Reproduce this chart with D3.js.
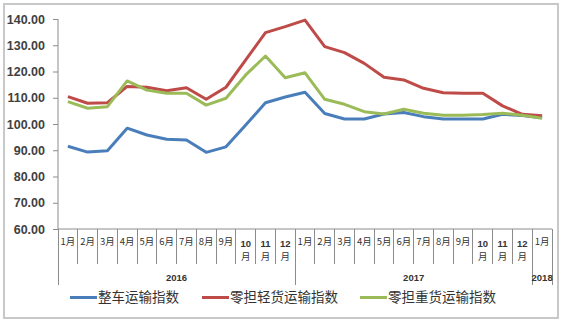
<!DOCTYPE html>
<html><head><meta charset="utf-8">
<script src="https://cdn.jsdelivr.net/npm/d3@7"></script>
<style>body{margin:0;background:#fff}svg{display:block}</style>
</head><body><svg id="c" width="562" height="323"></svg>
<script>
const months = ["1月","2月","3月","4月","5月","6月","7月","8月","9月","10月","11月","12月",
                "1月","2月","3月","4月","5月","6月","7月","8月","9月","10月","11月","12月","1月"];
const years = [{label:"2016", start:0, end:12},{label:"2017", start:12, end:24},{label:"2018", start:24, end:25}];
const seriesNames = ["整车运输指数","零担轻货运输指数","零担重货运输指数"];
const zhengche = [91.5,89.3,89.8,98.4,95.8,94.2,93.9,89.2,91.3,99.6,108.1,110.3,112.1,104.0,101.9,101.9,103.8,104.4,102.8,101.9,101.9,101.9,103.7,103.2,102.4];
const qinghuo  = [110.4,107.9,108.1,114.3,114.0,112.7,113.8,109.4,114.0,124.4,134.8,137.1,139.6,129.5,127.2,123.1,117.8,116.8,113.6,111.9,111.7,111.7,106.9,103.7,103.1];
const zhonghuo = [108.5,106.0,106.6,116.4,112.9,111.7,111.7,107.2,109.8,118.7,125.9,117.6,119.5,109.4,107.5,104.7,103.8,105.6,104.1,103.3,103.3,103.6,104.1,103.3,102.2];
const yTicks = [60,70,80,90,100,110,120,130,140];
const colors = ["#4A7EBB","#BE4B48","#9BBB59"];

const svg = d3.select("#c");
svg.append("rect").attr("x",4).attr("y",4).attr("width",554).attr("height",314)
  .attr("fill","#fff").attr("stroke","#c8c8c8").attr("stroke-width",2);

const x = d3.scaleBand().domain(d3.range(months.length)).range([58,552]);
const y = d3.scaleLinear().domain([60,140]).range([229,19]);
const axisColor = "#8c8c8c";

// y axis
const ya = svg.append("g").attr("transform","translate(58,0)")
  .call(d3.axisLeft(y).tickValues(yTicks).tickFormat(d3.format(".2f")).tickSize(5).tickPadding(8));
ya.select(".domain").attr("stroke",axisColor).attr("d","M0,19V229");
ya.selectAll(".tick line").attr("stroke",axisColor);
ya.selectAll("text").attr("font-family","Liberation Sans, Arial, sans-serif").attr("font-size",12.5)
  .attr("font-weight","bold").attr("fill","#404040");

// x axis baseline
svg.append("line").attr("x1",58).attr("x2",552).attr("y1",229).attr("y2",229).attr("stroke",axisColor);
// category boundaries
const bounds = d3.range(months.length+1);
const yearBounds = new Set([0,12,24,25]);
svg.selectAll(".bd").data(bounds).join("line")
  .attr("x1",i=> i<months.length ? x(i) : x.range()[1])
  .attr("x2",i=> i<months.length ? x(i) : x.range()[1])
  .attr("y1",229).attr("y2",i=> yearBounds.has(i)?285:264)
  .attr("stroke",axisColor).attr("stroke-width",1).attr("shape-rendering","crispEdges");

// month labels
months.forEach((d,i)=>{
  const cx = x(i)+x.bandwidth()/2;
  if(d.length>2){
    svg.append("text").attr("x",cx).attr("y",247).attr("text-anchor","middle")
      .attr("font-family","Liberation Sans, Arial, sans-serif").attr("font-size",9.5).attr("font-weight","bold")
      .attr("fill","#333").text(d.slice(0,d.length-1));
    svg.append("text").attr("x",cx).attr("y",260).attr("text-anchor","middle")
      .attr("font-family","Noto Sans CJK SC, sans-serif").attr("font-size",9.5)
      .attr("fill","#333").text("月");
  } else {
    svg.append("text").attr("x",cx).attr("y",245).attr("text-anchor","middle")
      .attr("font-family","Noto Sans CJK SC, sans-serif").attr("font-size",9.5)
      .attr("fill","#333").text(d);
  }
});
// year labels
svg.selectAll(".yl").data(years).join("text")
  .attr("x",d=>{const a=x(d.start); const b=d.end<months.length?x(d.end):x.range()[1]; return (a+b)/2;})
  .attr("y",281).attr("text-anchor","middle").attr("font-family","Liberation Sans, Arial, sans-serif")
  .attr("font-size",9.5).attr("font-weight","bold").attr("fill","#333").text(d=>d.label);

// lines
const allSeries = [zhengche, qinghuo, zhonghuo];
const line = d3.line().x((d,i)=>x(i)+x.bandwidth()/2).y(d=>y(d));
svg.selectAll(".ln").data(allSeries).join("path")
  .attr("d",line).attr("fill","none").attr("stroke",(d,i)=>colors[i])
  .attr("stroke-width",3).attr("stroke-linejoin","round");

// legend
const legX = [70,202,360];
const lg = svg.selectAll(".lg").data(seriesNames).join("g")
  .attr("transform",(d,i)=>`translate(${legX[i]},0)`);
lg.append("line").attr("x1",0).attr("x2",27).attr("y1",297.5).attr("y2",297.5)
  .attr("stroke",(d,i)=>colors[i]).attr("stroke-width",3);
lg.append("text").attr("x",28).attr("y",302).attr("font-family","Noto Sans CJK SC, sans-serif")
  .attr("font-size",13.5).attr("fill","#333").text(d=>d);
</script></body></html>
